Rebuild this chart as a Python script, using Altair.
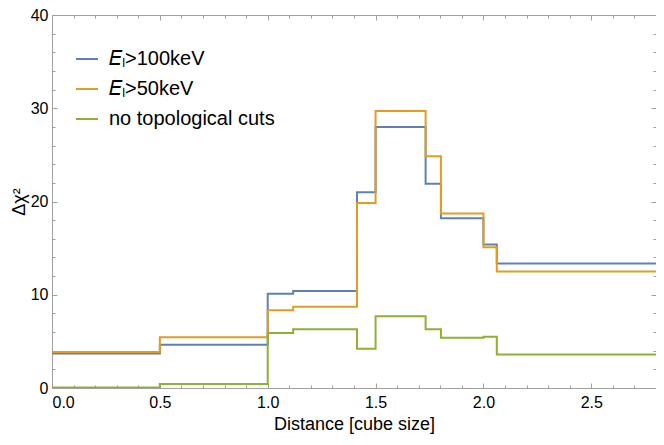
import altair as alt
import pandas as pd

# bin edges (distance in cube sizes) and the step values of each series
edges = [0.0, 0.5, 1.0, 1.118, 1.414, 1.5, 1.732, 1.803, 2.0, 2.062, 2.8]
blue = [3.7, 4.65, 10.1, 10.4, 21.0, 28.0, 21.9, 18.2, 15.4, 13.35]
orange = [3.85, 5.45, 8.35, 8.7, 19.85, 29.7, 24.85, 18.7, 15.1, 12.5]
green = [0.05, 0.42, 5.9, 6.3, 4.2, 7.7, 6.3, 5.4, 5.5, 3.6]

keys = ["s1", "s2", "s3"]
labels = ["𝐸ₗ>100keV", "𝐸ₗ>50keV", "no topological cuts"]
colors = ["#5E81B5", "#E19C24", "#8FB032"]

x_major = [0.0, 0.5, 1.0, 1.5, 2.0, 2.5]
x_minor = [0.1, 0.2, 0.3, 0.4, 0.6, 0.7, 0.8, 0.9, 1.1, 1.2, 1.3, 1.4,
           1.6, 1.7, 1.8, 1.9, 2.1, 2.2, 2.3, 2.4, 2.6, 2.7]
y_major = [0, 10, 20, 30, 40]
y_minor = [2, 4, 6, 8, 12, 14, 16, 18, 22, 24, 26, 28, 32, 34, 36, 38]

rows = []
for k, vals in zip(keys, [blue, orange, green]):
    vv = vals + [vals[-1]]
    for xe, v in zip(edges, vv):
        rows.append({"s": k, "x": xe, "v": v})
df = pd.DataFrame(rows)

W, H = 604, 373
GRAY = "#a0a0a0"
FONT = "Liberation Sans"

xs = alt.Scale(domain=[0, 2.8], nice=False, zero=False)
ys = alt.Scale(domain=[0, 40], nice=False, zero=False)

label_expr = " : ".join(
    [f"datum.label == '{k}' ? '{l}'" for k, l in zip(keys[:-1], labels[:-1])]
) + f" : '{labels[-1]}'"

lines = alt.Chart(df).mark_line(
    interpolate="step-after", strokeWidth=2, clip=True
).encode(
    x=alt.X("x:Q", scale=xs, axis=alt.Axis(
        values=x_major, format=".1f", title="Distance [cube size]",
        ticks=False, domain=False, grid=False, labelPadding=6,
        titlePadding=5, titleFontSize=18)),
    y=alt.Y("v:Q", scale=ys, axis=alt.Axis(
        values=y_major, format="d", title="Δχ²", ticks=False,
        domain=False, grid=False, labelPadding=4, titlePadding=2,
        titleFontSize=18)),
    color=alt.Color("s:N", scale=alt.Scale(domain=keys, range=colors),
                    legend=alt.Legend(
                        orient="none", legendX=23, legendY=32, title=None,
                        symbolType="stroke", symbolSize=484,
                        symbolStrokeWidth=2, labelFontSize=20,
                        labelFont=FONT, labelOffset=10, rowPadding=8,
                        labelLimit=400, padding=0, labelExpr=label_expr)),
)


def tick_layer(xorient, yorient, xvals, yvals, size):
    return alt.Chart(df).mark_point(opacity=0).encode(
        x=alt.X("x:Q", scale=xs, axis=alt.Axis(
            orient=xorient, offset=-H, values=xvals, tickSize=size,
            labels=False, domain=False, grid=False, title=None,
            tickColor=GRAY, tickWidth=1)),
        y=alt.Y("v:Q", scale=ys, axis=alt.Axis(
            orient=yorient, offset=-W, values=yvals, tickSize=size,
            labels=False, domain=False, grid=False, title=None,
            tickColor=GRAY, tickWidth=1)),
    )


chart = alt.layer(
    lines,
    tick_layer("top", "right", x_major, y_major, 5),
    tick_layer("top", "right", x_minor, y_minor, 3),
    tick_layer("bottom", "left", x_major, y_major, 5),
    tick_layer("bottom", "left", x_minor, y_minor, 3),
).resolve_scale(x="independent", y="independent").properties(
    width=W, height=H,
    autosize=alt.AutoSizeParams(type="none"),
    padding={"left": 44, "top": 7, "right": 0, "bottom": 49},
).configure(background="white").configure_view(
    stroke=GRAY, strokeWidth=1
).configure_axis(
    labelFont=FONT, titleFont=FONT, labelFontSize=16, titleFontSize=16,
    labelColor="black", titleColor="black", titleFontWeight="normal",
)

chart.save("out.html", embed_options={"renderer": "svg", "actions": False})
